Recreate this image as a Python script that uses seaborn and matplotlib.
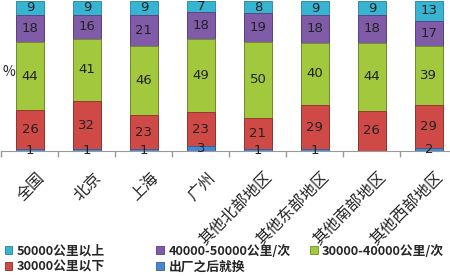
import numpy as np
import pandas as pd
import matplotlib
matplotlib.use('Agg')
import matplotlib.pyplot as plt
import matplotlib.transforms as mtransforms
import seaborn as sns
from matplotlib.patches import Patch

categories = ['全国', '北京', '上海', '广州', '其他北部地区', '其他东部地区', '其他南部地区', '其他西部地区']
s_first = [1, 1, 1, 3, 1, 1, 0, 2]          # 出厂之后就换
s_lt30k = [26, 32, 23, 23, 21, 29, 26, 29]  # 30000公里以下
s_30_40 = [44, 41, 46, 49, 50, 40, 44, 39]  # 30000-40000公里/次
s_40_50 = [18, 16, 21, 18, 19, 18, 18, 17]  # 40000-50000公里/次
s_gt50 = [9, 9, 9, 7, 8, 9, 9, 13]          # 50000公里以上
series_names = ['出厂之后就换', '30000公里以下', '30000-40000公里/次', '40000-50000公里/次', '50000公里以上']
colors = ['#4A86CF', '#CF4A46', '#A2C83D', '#7F5BA8', '#36B4D2']
edges = ['#2F5F9A', '#8E2E2B', '#6E8C28', '#573D78', '#26809A']

sns.set_theme(style='white')
plt.rcParams['font.family'] = ['Noto Sans CJK SC', 'DejaVu Sans']

fig = plt.figure(figsize=(4.5, 2.76), dpi=100)
ax = fig.add_axes([0.0033, 0.453, 1.013, 0.543])

data = np.array([s_first, s_lt30k, s_30_40, s_40_50, s_gt50], dtype=float)
totals = data.sum(axis=0)
pct = data / totals * 100
cum = np.cumsum(pct, axis=0)

for i in range(4, -1, -1):
    df = pd.DataFrame({'cat': categories, 'y': cum[i]})
    sns.barplot(data=df, x='cat', y='y', color=colors[i], width=0.5, saturation=1,
                edgecolor=edges[i], linewidth=0.6, errorbar=None, ax=ax)

for i in range(5):
    for j in range(len(categories)):
        if data[i, j] > 0:
            ax.text(j, cum[i, j] - pct[i, j] / 2, f'{int(data[i, j])}', ha='center', va='center',
                    fontsize=9.5, color='#222222', family='DejaVu Sans')

ax.set_ylim(0, 100)
ax.set_xlim(-0.5, len(categories) - 0.5)
ax.set_xlabel('')
ax.set_ylabel('')
ax.set_yticks([])
for s in ['top', 'right', 'left']:
    ax.spines[s].set_visible(False)
ax.spines['bottom'].set_color('#999999')
ax.spines['bottom'].set_linewidth(0.8)
ax.set_xticks(np.arange(-0.5, len(categories), 1), minor=True)
ax.tick_params(axis='x', which='minor', length=4, direction='out', color='#999999', bottom=True)
ax.tick_params(axis='x', which='major', length=0, pad=13)
ax.set_xticks(range(len(categories)))
ax.set_xticklabels(categories, rotation=45, ha='right', va='top', rotation_mode='anchor', fontsize=11.5)
offset = mtransforms.ScaledTranslation(6 / 100, 0, fig.dpi_scale_trans)
for lab in ax.get_xticklabels():
    lab.set_transform(lab.get_transform() + offset)

fig.text(0.005, 0.74, '%', fontsize=10, ha='left', va='center')

handles = [Patch(facecolor=colors[i], edgecolor=edges[i], linewidth=0.6) for i in range(5)]
cols = [([4, 1], 0.005), ([3, 0], 0.342), ([2], 0.683)]
for idx, x0 in cols:
    fig.legend([handles[k] for k in idx], [series_names[k] for k in idx], loc='upper left',
               bbox_to_anchor=(x0, 0.122), frameon=False, handlelength=0.6,
               handleheight=0.6, handletextpad=0.35, labelspacing=0.2, borderpad=0.1,
               borderaxespad=0.1, prop={'weight': 'bold', 'size': 9.2})

fig.savefig('out.png', dpi=100)
